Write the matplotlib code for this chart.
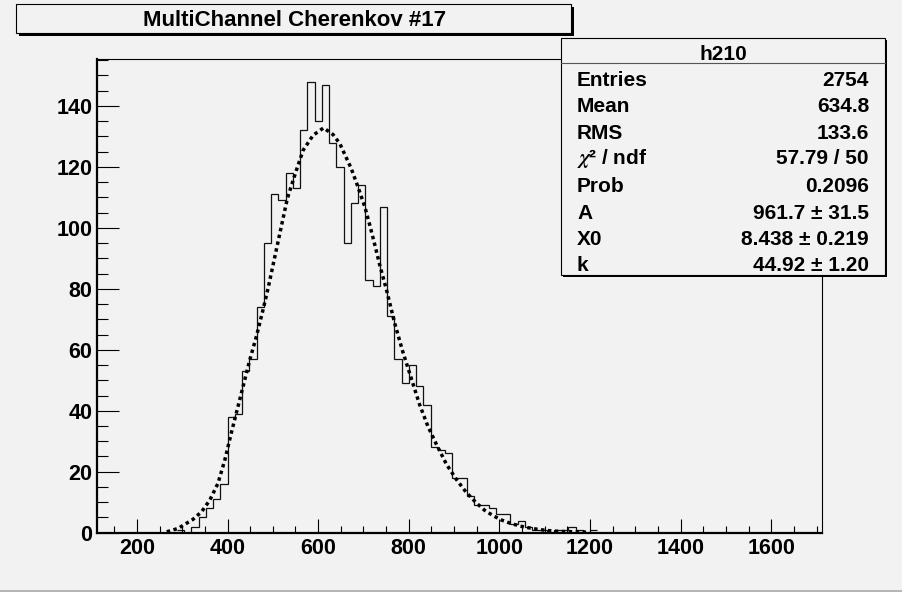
import numpy as np
import matplotlib.pyplot as plt
from matplotlib.patches import Rectangle
from matplotlib.ticker import MultipleLocator, FixedLocator

plt.rcParams['font.family'] = ['Liberation Sans', 'DejaVu Sans']
plt.rcParams['font.weight'] = 'bold'
plt.rcParams['mathtext.fontset'] = 'stix'

# histogram h210: 16-wide bins, counts starting at the bin [288, 304)
bin_width = 16
first_edge = 288
counts = [1, 0, 2, 5, 8, 11, 16, 38, 39, 53, 57, 74, 95, 111, 109, 118, 113, 132,
          148, 135, 147, 128, 120, 95, 108, 114, 83, 81, 107, 71, 57, 49, 55, 48,
          42, 28, 27, 26, 18, 18, 12, 9, 9, 8, 6, 6, 3, 4, 2, 1, 1, 0, 1, 1, 2, 1, 0, 1]
x_range = (112, 1712)

# fitted curve
fit_x = [266, 291, 324, 343, 361, 379, 394, 409, 423, 438, 449, 464, 479, 490, 508,
         532, 552, 567, 589, 612, 633, 648, 673, 688, 703, 714, 725, 736, 751, 769,
         787, 802, 824, 842, 861, 883, 905, 927, 949, 967, 986, 1004, 1024, 1045,
         1065, 1085, 1107, 1129, 1150, 1170, 1192]
fit_y = [0.3, 1.4, 4.4, 6.9, 10.7, 16.2, 23.8, 33.1, 41.3, 50.1, 56.6, 64.5, 73.5,
         80.5, 93.0, 109.6, 118.9, 125.5, 130.4, 132.8, 130.6, 127.6, 119.5, 113.4,
         106.9, 100.9, 94.5, 87.8, 79.6, 68.7, 59.3, 52.3, 42.0, 35.0, 29.0, 22.5,
         17.5, 13.2, 9.8, 7.4, 5.6, 4.2, 3.1, 2.2, 1.6, 1.1, 0.7, 0.45, 0.35, 0.3, 0.2]

title = 'MultiChannel Cherenkov #17'
stats_name = 'h210'
stats_labels = ['Entries', 'Mean', 'RMS', r'$\chi$² / ndf', 'Prob', 'A', 'X0', 'k']
stats_values = ['2754', '634.8', '133.6', '57.79 / 50', '0.2096',
                '961.7 ± 31.5', '8.438 ± 0.219', '44.92 ± 1.20']

bg = '#f2f2f2'
W, H = 902, 592

def fx(px):
    return px / W

def fy(py):
    return 1 - py / H

fig = plt.figure(figsize=(W / 100, H / 100), dpi=100, facecolor=bg)
ax = fig.add_axes([fx(97), fy(532.7), fx(822) - fx(97), fy(59) - fy(532.7)])
ax.set_facecolor(bg)

edges = first_edge + bin_width * np.arange(len(counts) + 1)
ax.stairs(counts, edges, color='#111111', linewidth=0.9, baseline=None)
ax.plot(fit_x, fit_y, color='black', linewidth=2.5, linestyle=(0, (1.0, 1.0)))

ax.set_xlim(*x_range)
ax.set_ylim(0, 1.05 * max(counts))

ax.xaxis.set_major_locator(FixedLocator(np.arange(200, 1601, 200)))
ax.xaxis.set_minor_locator(FixedLocator(np.arange(150, 1701, 50)))
ax.yaxis.set_major_locator(MultipleLocator(20))
ax.yaxis.set_minor_locator(MultipleLocator(5))
ax.tick_params(axis='x', which='major', direction='in', length=10.2, width=0.8,
               labelsize=15.5, pad=4)
ax.tick_params(axis='x', which='minor', direction='in', length=5.1, width=0.8)
ax.tick_params(axis='y', which='major', direction='in', length=15.7, width=0.8,
               labelsize=15.5, pad=3.5)
ax.tick_params(axis='y', which='minor', direction='in', length=7.8, width=0.8)
for lab in ax.get_xticklabels() + ax.get_yticklabels():
    lab.set_fontweight('bold')
ax.spines['left'].set_linewidth(1.6)
ax.spines['bottom'].set_linewidth(1.6)
ax.spines['top'].set_linewidth(0.8)
ax.spines['right'].set_linewidth(0.8)

def box(x0, y0, x1, y1, shadow=3):
    fig.add_artist(Rectangle((fx(x0 + shadow), fy(y1 + shadow)), fx(x1 - x0), fy(y0) - fy(y1),
                             transform=fig.transFigure, facecolor='black', edgecolor='none'))
    fig.add_artist(Rectangle((fx(x0), fy(y1)), fx(x1 - x0), fy(y0) - fy(y1),
                             transform=fig.transFigure, facecolor=bg, edgecolor='black',
                             linewidth=0.8))

# title box
box(16, 4, 571, 33)
fig.text(fx(295), fy(26.5), title, ha='center', va='baseline', fontsize=16, fontweight='bold')

# stats box
box(561, 38.3, 885, 275.3, shadow=2)
fig.add_artist(plt.Line2D([fx(561), fx(885)], [fy(63.3), fy(63.3)], transform=fig.transFigure,
                          color='#555555', linewidth=0.8))
fig.text(fx(723), fy(60.5), stats_name, ha='center', va='baseline', fontsize=15, fontweight='bold')
row_base = [86.5, 112.5, 138.9, 164.5, 191.5, 218.9, 245.2, 271.2]
for lab, val, yb in zip(stats_labels, stats_values, row_base):
    fig.text(fx(577), fy(yb), lab, ha='left', va='baseline', fontsize=15, fontweight='bold')
    fig.text(fx(869), fy(yb), val, ha='right', va='baseline', fontsize=15, fontweight='bold')

# bottom edge of the canvas
fig.add_artist(plt.Line2D([0, 1], [fy(590.5), fy(590.5)], transform=fig.transFigure,
                          color='#aaaaaa', linewidth=1.2))

fig.savefig('out.png', dpi=100, facecolor=bg)
